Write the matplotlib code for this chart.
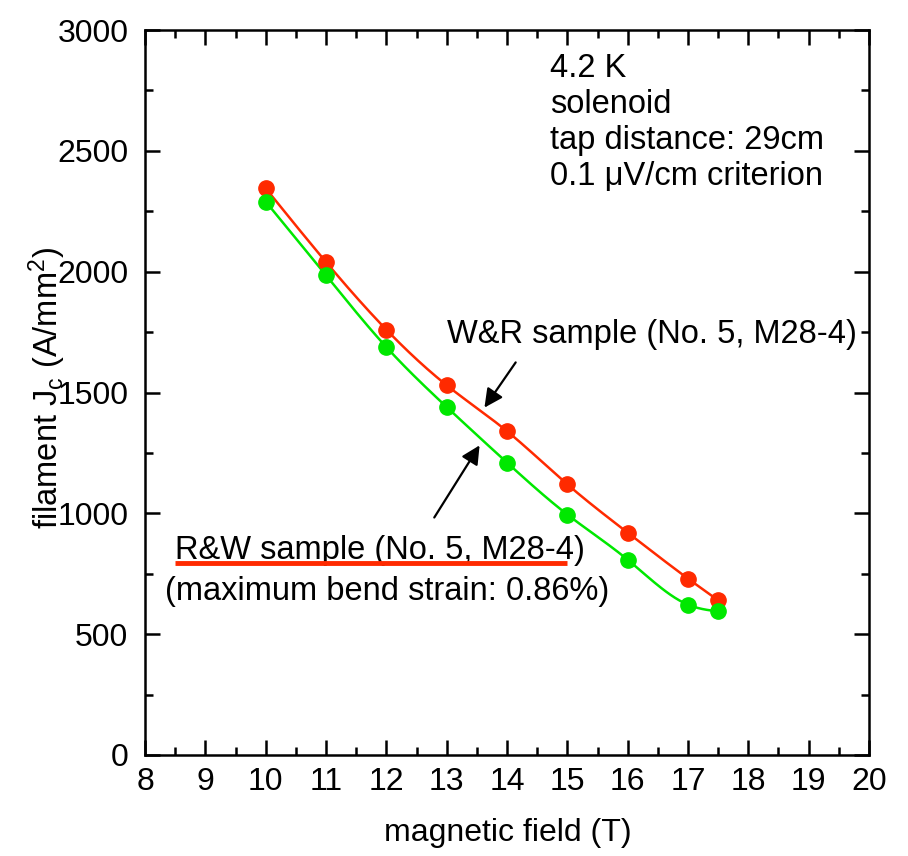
import numpy as np
import matplotlib.pyplot as plt
from matplotlib.ticker import MultipleLocator

plt.rcParams['font.family'] = ['Liberation Sans', 'DejaVu Sans']
plt.rcParams['mathtext.default'] = 'regular'

# magnetic field (T)
field = [10, 11, 12, 13, 14, 15, 16, 17, 17.5]
# filament Jc (A/mm2)
jc_wr = [2345, 2040, 1760, 1530, 1340, 1120, 920, 730, 640]
jc_rw = [2290, 1985, 1688, 1440, 1210, 995, 808, 622, 594]

red = '#ff2a00'
green = '#00e800'


def natural_spline(x, y, n=200):
    # smooth line through the measured points
    x = np.asarray(x, float)
    y = np.asarray(y, float)
    k = len(x)
    h = np.diff(x)
    A = np.zeros((k, k))
    b = np.zeros(k)
    A[0, 0] = A[-1, -1] = 1
    for i in range(1, k - 1):
        A[i, i - 1] = h[i - 1]
        A[i, i] = 2 * (h[i - 1] + h[i])
        A[i, i + 1] = h[i]
        b[i] = 3 * ((y[i + 1] - y[i]) / h[i] - (y[i] - y[i - 1]) / h[i - 1])
    c = np.linalg.solve(A, b)
    xs = np.linspace(x[0], x[-1], n)
    idx = np.clip(np.searchsorted(x, xs) - 1, 0, k - 2)
    dx = xs - x[idx]
    hi = h[idx]
    bb = (y[idx + 1] - y[idx]) / hi - hi * (2 * c[idx] + c[idx + 1]) / 3
    dd = (c[idx + 1] - c[idx]) / (3 * hi)
    ys = y[idx] + bb * dx + c[idx] * dx ** 2 + dd * dx ** 3
    return xs, ys


fig = plt.figure(figsize=(9.08, 8.56), dpi=100)
ax = fig.add_axes([145 / 908, 1 - 755 / 856, 724 / 908, 725 / 856])

for jc, col in [(jc_wr, red), (jc_rw, green)]:
    xs, ys = natural_spline(field, jc)
    ax.plot(xs, ys, color=col, lw=1.8, zorder=2)
    ax.plot(field, jc, 'o', color=col, ms=11, mec=col, zorder=3)

ax.set_xlim(8, 20)
ax.set_ylim(0, 3000)
ax.xaxis.set_major_locator(MultipleLocator(1))
ax.xaxis.set_minor_locator(MultipleLocator(0.5))
ax.yaxis.set_major_locator(MultipleLocator(500))
ax.yaxis.set_minor_locator(MultipleLocator(250))
ax.tick_params(which='both', direction='in', top=True, right=True, width=1.8, colors='black')
ax.tick_params(which='major', length=10.5)
ax.tick_params(which='minor', length=5.5)
ax.tick_params(axis='x', which='major', labelsize=23, pad=9)
ax.tick_params(axis='y', which='major', labelsize=23, pad=12)
for s in ax.spines.values():
    s.set_linewidth(1.8)

fig.text(508 / 908, 1 - 833 / 856, 'magnetic field (T)', fontsize=23, ha='center', va='center')
fig.text(47 / 908, 1 - 388 / 856, r'filament J$_c$ (A/mm$^2$)', fontsize=23.5,
         rotation=90, ha='center', va='center')

ax.text(0.560, 0.968, '4.2 K\nsolenoid\ntap distance: 29cm\n0.1 \u03bcV/cm criterion',
        transform=ax.transAxes, fontsize=23.5, ha='left', va='top', linespacing=1.2)

ax.annotate('', xy=(13.60, 1428), xytext=(14.17, 1634),
            arrowprops=dict(arrowstyle='-|>', color='black', lw=1.6, mutation_scale=28))
ax.annotate('', xy=(13.57, 1291), xytext=(12.77, 973),
            arrowprops=dict(arrowstyle='-|>', color='black', lw=1.6, mutation_scale=28))

ax.text(13.0, 1705, 'W&R sample (No. 5, M28-4)', fontsize=23.5, ha='left', va='baseline')
ax.text(8.50, 811, 'R&W sample (No. 5, M28-4)', fontsize=23.5, ha='left', va='baseline')
ax.plot([8.50, 14.99], [794, 794], color=red, lw=3.5, solid_capstyle='butt', zorder=4)
ax.text(8.33, 641, '(maximum bend strain: 0.86%)', fontsize=23.5, ha='left', va='baseline')

fig.savefig('out.png', dpi=100)
